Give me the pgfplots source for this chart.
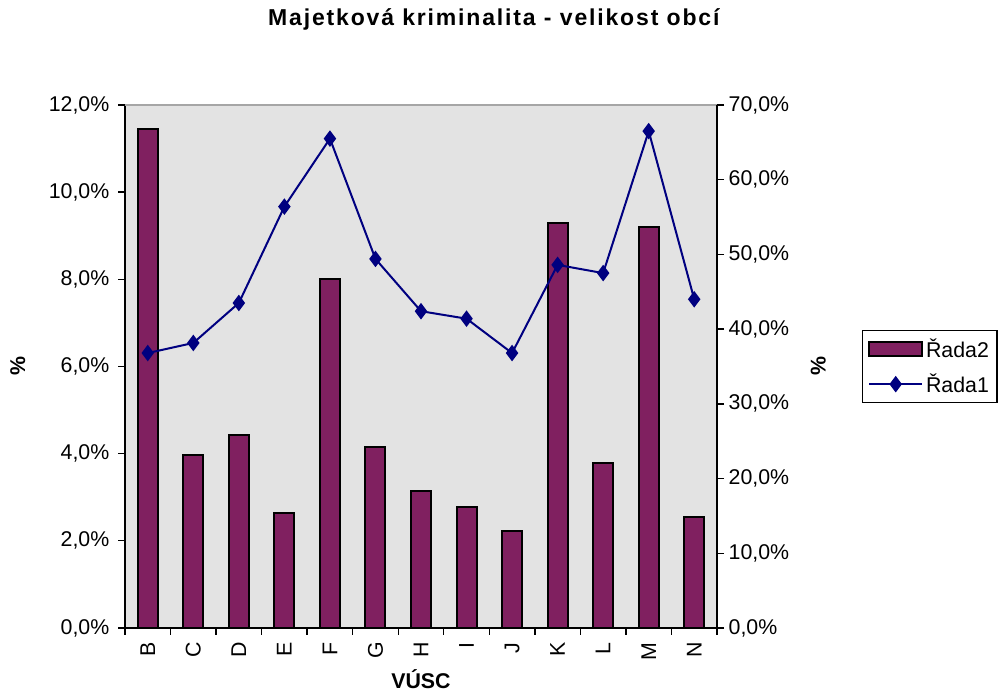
\documentclass[border=0pt]{standalone}
\usepackage{pgfplots}
\pgfplotsset{compat=1.18}
\usepackage{fontspec}
\setmainfont{Liberation Sans}
\newfontfamily\titlefont[LetterSpace=8]{Liberation Sans}
\definecolor{barc}{RGB}{128,32,96}
\definecolor{linec}{RGB}{0,0,128}
\definecolor{bgc}{RGB}{227,227,227}
\pgfplotsset{
  mylineleg/.style={legend image code/.code={\draw[mark repeat=2,mark phase=2,##1] plot coordinates {(0bp,0bp) (20bp,0bp) (40bp,0bp)};}},
  mybarleg/.style={legend image code/.code={\draw[fill=barc,draw=black,line width=1.5bp] (0bp,-5bp) rectangle (40bp,5bp);}},
}
\begin{document}
\begin{tikzpicture}
\useasboundingbox (0,0) rectangle (751.5bp,520.5bp);
\pgfplotsset{
  common/.style={
    scale only axis, width=444bp, height=392.25bp,
    xmin=-0.5, xmax=12.5,
    at={(93.75bp,49.5bp)}, anchor=south west,
    tick align=outside, major tick length=5.25bp,
    tick style={black, line width=1bp},
    axis line style={black, line width=1bp},
    ticklabel style={font=\fontsize{16bp}{19bp}\selectfont},
    /pgf/number format/assume math mode=true,
    label style={font=\bfseries\fontsize{16bp}{19bp}\selectfont},
  }
}
\begin{axis}[common,
  axis x line*=bottom, axis y line*=left,
  axis background/.style={fill=bgc},
  ymin=0, ymax=12, ytick={0,2,...,12},
  yticklabel={\pgfmathprintnumber[fixed,fixed zerofill,precision=1,use comma]{\tick}\%},
  yticklabel style={xshift=-3bp},
  xtick={-0.5,0.5,1.5,2.5,3.5,4.5,5.5,6.5,7.5,8.5,9.5,10.5,11.5,12.5},
  x tick label as interval,
  xticklabels={B,C,D,E,F,G,H,I,J,K,L,M,N},
  xticklabel style={rotate=90, anchor=east, xshift=-2bp},
  ybar, bar width=15bp,
  xlabel={VÚSC},
  xlabel style={at={(axis description cs:0.5,-0.097)}, anchor=center},
  ylabel={\%},
  ylabel style={at={(axis description cs:-0.181,0.5)}, anchor=center, rotate=0},
  title={Majetková kriminalita - velikost obcí},
  title style={at={(axis description cs:0.623,1.149)}, anchor=center, font=\titlefont\bfseries\fontsize{17.25bp}{20bp}\selectfont},
  after end axis/.code={\draw[gray!70, line width=1bp] (rel axis cs:0,1) -- (rel axis cs:1,1);},
]
\addplot[fill=barc, draw=black, line width=1.5bp] coordinates {
(0,11.45) (1,3.97) (2,4.43) (3,2.64) (4,8.01) (5,4.15) (6,3.14)
(7,2.78) (8,2.23) (9,9.29) (10,3.79) (11,9.20) (12,2.55)};
\end{axis}
\begin{axis}[common,
  axis x line=none, axis y line*=right,
  ymin=0, ymax=70, ytick={0,10,...,70},
  yticklabel={\pgfmathprintnumber[fixed,fixed zerofill,precision=1,use comma]{\tick}\%},
  ylabel={\%},
  ylabel style={at={(axis description cs:1.171,0.5)}, anchor=center, rotate=0},
  legend style={at={(axis description cs:1.245,0.570)}, anchor=north west,
    draw=black, line width=1bp, font=\fontsize{16bp}{19bp}\selectfont,
    row sep=7bp, inner sep=4bp},
  legend cell align=left,
]
\addlegendimage{mybarleg}
\addlegendentry{Řada2}
\addplot[linec, line width=1.5bp, mark=diamond*, mark size=5bp, mark options={fill=linec}, mylineleg]
coordinates {
(0,36.8) (1,38.15) (2,43.5) (3,56.4) (4,65.5) (5,49.4) (6,42.4)
(7,41.4) (8,36.8) (9,48.6) (10,47.5) (11,66.5) (12,44.0)};
\addlegendentry{Řada1}
\end{axis}
\end{tikzpicture}
\end{document}
